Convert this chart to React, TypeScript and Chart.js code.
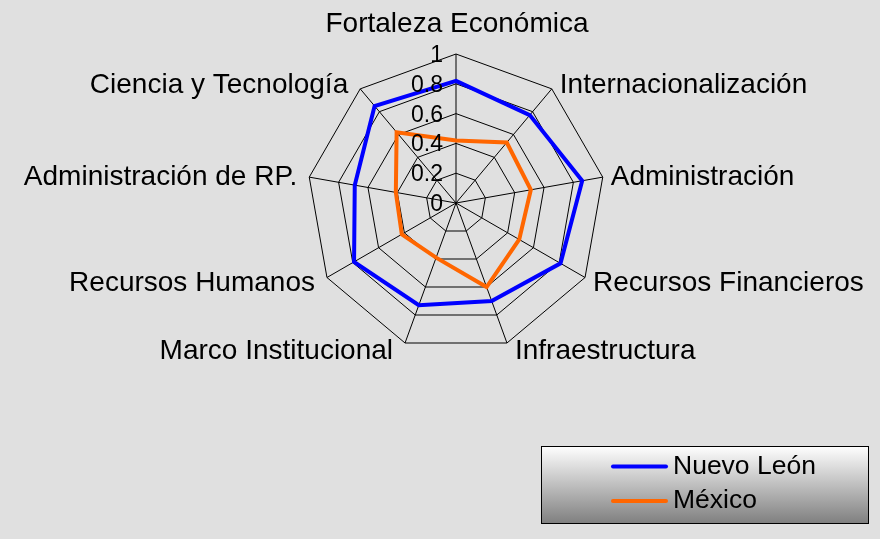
import React, { useEffect, useRef } from "react";
import { Chart, registerables } from "chart.js";

Chart.register(...registerables);

const categories = [
  "Fortaleza Económica",
  "Internacionalización",
  "Administración",
  "Recursos Financieros",
  "Infraestructura",
  "Marco Institucional",
  "Recursos Humanos",
  "Administración de RP.",
  "Ciencia y Tecnología",
];

const nuevoLeon = [0.82, 0.77, 0.86, 0.81, 0.7, 0.73, 0.79, 0.69, 0.85];
const mexico = [0.42, 0.53, 0.51, 0.49, 0.6, 0.39, 0.42, 0.41, 0.62];

const tickValues = [0, 0.2, 0.4, 0.6, 0.8, 1];
const tickLabels = ["0", "0.2", "0.4", "0.6", "0.8", "1"];

const seriesNames = ["Nuevo León", "México"];
const seriesColors = ["#0000FF", "#FF6600"];

const FONT = '"Liberation Sans", Arial, sans-serif';

const bgPlugin = {
  id: "bgFill",
  beforeDraw(chart: any) {
    const { ctx, width, height } = chart;
    ctx.save();
    ctx.fillStyle = "#e0e0e0";
    ctx.fillRect(0, 0, width, height);
    ctx.restore();
  },
};

const labelsPlugin = {
  id: "customLabels",
  afterDraw(chart: any) {
    const { ctx } = chart;
    const scale = chart.scales.r;
    const n = chart.data.labels.length;
    ctx.save();
    ctx.fillStyle = "#000";
    // point labels
    ctx.font = `28px ${FONT}`;
    for (let i = 0; i < n; i++) {
      const p = scale.getPointPosition(i, scale.drawingArea);
      const a = (i * 2 * Math.PI) / n;
      const s = Math.sin(a);
      const c = Math.cos(a);
      const text = chart.data.labels[i];
      ctx.textBaseline = "alphabetic";
      if (i === 0) {
        ctx.textAlign = "center";
        ctx.fillText(text, p.x + 1, p.y - 22);
      } else if (s > 0) {
        ctx.textAlign = "left";
        ctx.fillText(text, p.x + 8, p.y + 9.5 - 7 * c);
      } else {
        ctx.textAlign = "right";
        ctx.fillText(text, p.x - 12, p.y + 9.5 - 7 * c);
      }
    }
    // tick labels
    ctx.font = `23px ${FONT}`;
    ctx.textAlign = "right";
    ctx.textBaseline = "alphabetic";
    for (let i = 0; i < tickValues.length; i++) {
      const d = scale.getDistanceFromCenterForValue(tickValues[i]);
      ctx.fillText(tickLabels[i], scale.xCenter - 13, scale.yCenter - d + 8);
    }
    // legend
    const bx = 541, by = 446, bw = 327, bh = 77;
    const g = ctx.createLinearGradient(0, by, 0, by + bh);
    g.addColorStop(0, "#ffffff");
    g.addColorStop(1, "#808080");
    ctx.fillStyle = g;
    ctx.fillRect(bx, by, bw, bh);
    ctx.strokeStyle = "#000";
    ctx.lineWidth = 1;
    ctx.strokeRect(bx + 0.5, by + 0.5, bw, bh);
    ctx.font = `26.5px ${FONT}`;
    ctx.textAlign = "left";
    chart.data.datasets.forEach((ds: any, k: number) => {
      const ly = 466.5 + k * 34.5;
      ctx.strokeStyle = ds.borderColor;
      ctx.lineWidth = 4;
      ctx.lineCap = "round";
      ctx.beginPath();
      ctx.moveTo(613, ly);
      ctx.lineTo(666, ly);
      ctx.stroke();
      ctx.fillStyle = "#000";
      ctx.fillText(ds.label, 673, ly + 7);
    });
    ctx.restore();
  },
};

export default function App() {
  const ref = useRef<HTMLCanvasElement>(null);
  useEffect(() => {
    document.body.style.margin = "0";
    const chart = new Chart(ref.current as HTMLCanvasElement, {
      type: "radar",
      data: {
        labels: categories,
        datasets: [
          {
            label: seriesNames[0],
            data: nuevoLeon,
            borderColor: seriesColors[0],
            backgroundColor: "transparent",
            borderWidth: 4,
            pointRadius: 0,
            fill: false,
            tension: 0,
          },
          {
            label: seriesNames[1],
            data: mexico,
            borderColor: seriesColors[1],
            backgroundColor: "transparent",
            borderWidth: 4,
            pointRadius: 0,
            fill: false,
            tension: 0,
          },
        ],
      },
      options: {
        responsive: false,
        animation: false,
        layout: { padding: { left: 307, right: 274, top: 54, bottom: 187 } },
        plugins: { legend: { display: false }, tooltip: { enabled: false } },
        scales: {
          r: {
            min: 0,
            max: 1,
            ticks: { display: false, stepSize: 0.2 },
            grid: { color: "#000", lineWidth: 1, circular: false },
            angleLines: { color: "#000", lineWidth: 1 },
            pointLabels: { display: false },
          },
        },
      },
      plugins: [bgPlugin, labelsPlugin],
    });
    return () => chart.destroy();
  }, []);
  return (
    <div style={{ position: "absolute", left: 0, top: 0, width: 880, height: 539 }}>
      <canvas ref={ref} width={880} height={539} />
    </div>
  );
}
